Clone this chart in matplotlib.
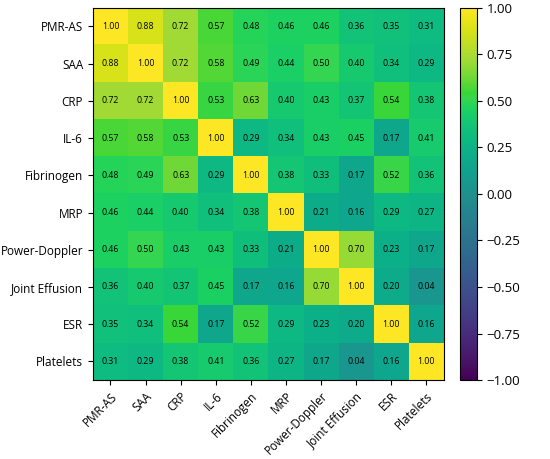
import numpy as np
import matplotlib
matplotlib.use("Agg")
import matplotlib.pyplot as plt
from matplotlib.colors import ListedColormap, rgb_to_hsv, hsv_to_rgb

plt.rcParams['font.family'] = ['Open Sans', 'DejaVu Sans']

labels = ["PMR-AS", "SAA", "CRP", "IL-6", "Fibrinogen", "MRP",
          "Power-Doppler", "Joint Effusion", "ESR", "Platelets"]

corr = np.array([
    [1.00, 0.88, 0.72, 0.57, 0.48, 0.46, 0.46, 0.36, 0.35, 0.31],
    [0.88, 1.00, 0.72, 0.58, 0.49, 0.44, 0.50, 0.40, 0.34, 0.29],
    [0.72, 0.72, 1.00, 0.53, 0.63, 0.40, 0.43, 0.37, 0.54, 0.38],
    [0.57, 0.58, 0.53, 1.00, 0.29, 0.34, 0.43, 0.45, 0.17, 0.41],
    [0.48, 0.49, 0.63, 0.29, 1.00, 0.38, 0.33, 0.17, 0.52, 0.36],
    [0.46, 0.44, 0.40, 0.34, 0.38, 1.00, 0.21, 0.16, 0.29, 0.27],
    [0.46, 0.50, 0.43, 0.43, 0.33, 0.21, 1.00, 0.70, 0.23, 0.17],
    [0.36, 0.40, 0.37, 0.45, 0.17, 0.16, 0.70, 1.00, 0.20, 0.04],
    [0.35, 0.34, 0.54, 0.17, 0.52, 0.29, 0.23, 0.20, 1.00, 0.16],
    [0.31, 0.29, 0.38, 0.41, 0.36, 0.27, 0.17, 0.04, 0.16, 1.00],
])

cbar_ticks = [-1, -0.75, -0.5, -0.25, 0, 0.25, 0.5, 0.75, 1]

# viridis plus vif, verts tirés vers l'émeraude comme dans l'image d'origine
base = plt.get_cmap('viridis')(np.linspace(0, 1, 256))[:, :3]
hsv = rgb_to_hsv(base)
h = hsv[:, 0]
bump = np.clip(1 - np.abs(h - 0.36) / 0.14, 0, 1)
hsv[:, 0] = h + 0.03 * bump
hsv[:, 1] = np.clip(hsv[:, 1] * (1 + 0.5 * bump), 0, 1)
hsv[:, 2] = np.clip(hsv[:, 2] * (1 + 0.07 * bump), 0, 1)
cmap = ListedColormap(hsv_to_rgb(hsv))

fig = plt.figure(figsize=(5.5, 4.59), dpi=100)
ax = fig.add_axes([0.169, 0.172, 0.638, 0.811])
cax = fig.add_axes([0.836, 0.172, 0.031, 0.811])

im = ax.imshow(corr, cmap=cmap, vmin=-1, vmax=1, aspect='auto')

for i in range(len(labels)):
    for j in range(len(labels)):
        ax.text(j, i, f"{corr[i, j]:.2f}", ha='center', va='center',
                fontsize=6.3, color='black')

ax.set_xticks(range(len(labels)))
ax.set_yticks(range(len(labels)))
ax.set_xticklabels(labels, rotation=45, ha='right', rotation_mode='anchor', fontsize=8.5)
ax.set_yticklabels(labels, fontsize=8.5)

cb = fig.colorbar(im, cax=cax, ticks=cbar_ticks)
cb.ax.set_yticklabels([f"{t:.2f}".replace("-", "\u2212") for t in cbar_ticks],
                      fontsize=9.5)

fig.savefig("out.png", dpi=100)
